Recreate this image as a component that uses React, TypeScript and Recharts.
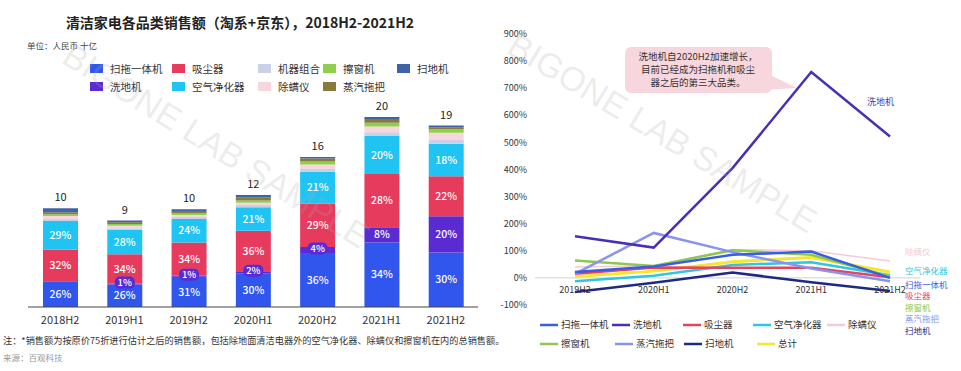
import { BarChart, Bar, XAxis, YAxis, LabelList, LineChart, Line, ReferenceLine } from 'recharts';

// ---- 左: 各品类销售额 (十亿) ----
const barCategories = ['2018H2', '2019H1', '2019H2', '2020H1', '2020H2', '2021H1', '2021H2'];
const barTotals = [10.4, 9.1, 10.3, 11.8, 15.8, 20.0, 19.1];
const totalLabels = ['10', '9', '10', '12', '16', '20', '19'];

// 各品类占比 (%)
const mopShare = [26, 26, 31, 30, 36, 34, 30];
const washerShare = [0, 1, 1, 2, 4, 8, 20];
const vacuumShare = [32, 34, 34, 36, 29, 28, 22];
const airShare = [29, 28, 24, 21, 21, 20, 18];
const comboShare = [2, 2, 2, 2, 2, 2, 2];
const miteShare = [3, 3, 2, 2, 3, 3, 4];
const windowShare = [2, 2, 2, 2, 2, 2, 2];
const steamShare = [2, 2, 2, 3, 2, 2, 1];
const robotShare = [4, 2, 2, 2, 1, 1, 1];

// ---- 右: 同比增速 (%) ----
const lineCategories = ['2019H2', '2020H1', '2020H2', '2021H1', '2021H2'];
const mopGrowth = [22, 42, 85, 97, 0];
const washerGrowth = [154, 112, 405, 760, 522];
const vacuumGrowth = [15, 38, 37, 37, 2];
const airGrowth = [-12, 8, 48, 58, 10];
const miteGrowth = [40, 45, 105, 100, 62];
const windowGrowth = [64, 44, 102, 85, 5];
const steamGrowth = [15, 166, 95, 35, -12];
const robotGrowth = [-52, -18, 20, -16, -48];
const totalGrowth = [5, 25, 60, 75, 22];
const yTicks = [-100, 0, 100, 200, 300, 400, 500, 600, 700, 800, 900];

const CJK = "'Noto Sans CJK SC', 'Noto Sans', sans-serif";

const barSeries = [
  { key: 'mop', name: '扫拖一体机', color: '#3056ee', share: mopShare },
  { key: 'washer', name: '洗地机', color: '#5a2ad2', share: washerShare },
  { key: 'vacuum', name: '吸尘器', color: '#e63b5d', share: vacuumShare },
  { key: 'air', name: '空气净化器', color: '#20c4f2', share: airShare },
  { key: 'combo', name: '机器组合', color: '#c9d0e8', share: comboShare },
  { key: 'mite', name: '除螨仪', color: '#f7d7dd', share: miteShare },
  { key: 'window', name: '擦窗机', color: '#8fd04b', share: windowShare },
  { key: 'steam', name: '蒸汽拖把', color: '#877a3c', share: steamShare },
  { key: 'robot', name: '扫地机', color: '#3e63a6', share: robotShare },
];

const barData = barCategories.map((c, i) => {
  const row: Record<string, number | string> = { name: c, total: barTotals[i] };
  for (const s of barSeries) {
    row[s.key] = (barTotals[i] * s.share[i]) / 100;
    row[s.key + 'Pct'] = s.share[i];
  }
  return row;
});

const lineSeries = [
  { key: 'mite', name: '除螨仪', color: '#f3cbd3', width: 1.5, values: miteGrowth },
  { key: 'total', name: '总计', color: '#f6e62c', width: 3, values: totalGrowth },
  { key: 'air', name: '空气净化器', color: '#2ec6e2', width: 2.5, values: airGrowth },
  { key: 'vacuum', name: '吸尘器', color: '#e5445f', width: 2.5, values: vacuumGrowth },
  { key: 'window', name: '擦窗机', color: '#8cc84c', width: 2.5, values: windowGrowth },
  { key: 'steam', name: '蒸汽拖把', color: '#8b93ec', width: 2.5, values: steamGrowth },
  { key: 'mop', name: '扫拖一体机', color: '#3a5de6', width: 2.5, values: mopGrowth },
  { key: 'robot', name: '扫地机', color: '#1e2a82', width: 2.5, values: robotGrowth },
  { key: 'washer', name: '洗地机', color: '#4a2fb6', width: 2.5, values: washerGrowth },
];

const lineData = lineCategories.map((c, i) => {
  const row: Record<string, number | string> = { name: c };
  for (const s of lineSeries) row[s.key] = s.values[i];
  return row;
});

function pctLabel(props: any) {
  const { x, y, width, height, value } = props;
  if (value === undefined || height < 8) return null;
  return (
    <text x={x + width / 2} y={y + height / 2} dy="0.35em" textAnchor="middle" fill="#fff" fontSize={10.5} fontWeight={500} fontFamily={CJK}>
      {value}%
    </text>
  );
}

function washerLabel(props: any) {
  const { x, y, width, height, value } = props;
  const cx = x + width / 2;
  const cy = y + height / 2 - 1.5;
  if (value >= 5) return pctLabel(props);
  return (
    <g>
      <rect x={cx - 10} y={cy - 6} width={20} height={12} rx={5} fill="#5a2ad2" />
      <text x={cx} y={cy} dy="0.35em" textAnchor="middle" fill="#fff" fontSize={9.5} fontWeight={500} fontFamily={CJK}>
        {value}%
      </text>
    </g>
  );
}

function totalLabel(props: any) {
  const { x, y, width, index } = props;
  return (
    <text x={x + width / 2} y={y - 7} textAnchor="middle" fill="#222" fontSize={11} fontFamily={CJK}>
      {totalLabels[index]}
    </text>
  );
}

function lineTick(props: any) {
  const { x, y, payload } = props;
  return (
    <text x={x} y={y - 26} dy="0.71em" textAnchor="middle" fill="#333" fontSize={9} fontFamily={CJK}>
      {payload.value}
    </text>
  );
}

const leftLegendPos = [
  { key: 'mop', x: 90, y: 68 },
  { key: 'vacuum', x: 172, y: 68 },
  { key: 'combo', x: 258, y: 68 },
  { key: 'window', x: 323, y: 68 },
  { key: 'robot', x: 397, y: 68 },
  { key: 'washer', x: 90, y: 86 },
  { key: 'air', x: 172, y: 86 },
  { key: 'mite', x: 258, y: 86 },
  { key: 'steam', x: 323, y: 86 },
];

const rightLegendPos = [
  { key: 'mop', x: 540, y: 325 },
  { key: 'washer', x: 612, y: 325 },
  { key: 'vacuum', x: 683, y: 325 },
  { key: 'air', x: 753, y: 325 },
  { key: 'mite', x: 827, y: 325 },
  { key: 'window', x: 540, y: 344 },
  { key: 'steam', x: 615, y: 344 },
  { key: 'robot', x: 684, y: 344 },
  { key: 'total', x: 757, y: 344 },
];

const endLabels = [
  { key: 'mite', y: 252 },
  { key: 'air', y: 271 },
  { key: 'mop', y: 285 },
  { key: 'vacuum', y: 296.5 },
  { key: 'window', y: 308 },
  { key: 'steam', y: 319.5 },
  { key: 'robot', y: 331 },
];

export default function App() {
  const abs = (x: number, y: number): React.CSSProperties => ({ position: 'absolute', left: x, top: y });
  return (
    <div style={{ position: 'absolute', left: 0, top: 0, width: 961, height: 371, background: '#fff', overflow: 'hidden', fontFamily: CJK }}>
      {/* 左图 标题 */}
      <div style={{ ...abs(0, 12), width: 480, textAlign: 'center', fontSize: 14, fontWeight: 700, color: '#222', lineHeight: '20px' }}>
        清洁家电各品类销售额（淘系+京东），2018H2-2021H2
      </div>
      <div style={{ ...abs(27, 39), fontSize: 8.5, color: '#444', lineHeight: '12px' }}>单位：人民币 十亿</div>

      {leftLegendPos.map(p => {
        const s = barSeries.find(b => b.key === p.key)!;
        return (
          <div key={p.key} style={{ ...abs(p.x, p.y - 7), display: 'flex', alignItems: 'center', height: 14 }}>
            <span style={{ width: 13, height: 9, background: s.color, display: 'inline-block', marginRight: 7 }} />
            <span style={{ fontSize: 10.5, color: '#333' }}>{s.name}</span>
          </div>
        );
      })}

      <div style={abs(0, 0)}>
        <BarChart width={490} height={371} data={barData} margin={{ top: 117, right: 12, left: 28, bottom: 34 }}>
          <XAxis dataKey="name" axisLine={{ stroke: '#444' }} tickLine={false} tickMargin={3} tick={{ fontSize: 11, fill: '#333', fontFamily: CJK }} />
          <YAxis hide domain={[0, 20]} />
          {barSeries.map(s => (
            <Bar key={s.key} dataKey={s.key} stackId="a" fill={s.color} barSize={35} isAnimationActive={false}>
              {['mop', 'vacuum', 'air'].includes(s.key) && <LabelList dataKey={s.key + 'Pct'} content={pctLabel} />}
              {s.key === 'washer' && <LabelList dataKey="washerPct" content={washerLabel} />}
              {s.key === 'robot' && <LabelList dataKey="total" content={totalLabel} />}
            </Bar>
          ))}
        </BarChart>
      </div>

      <div style={{ ...abs(3, 334), fontSize: 9.2, color: '#333', lineHeight: '12px', whiteSpace: 'nowrap' }}>
        注：*销售额为按原价75折进行估计之后的销售额，包括除地面清洁电器外的空气净化器、除螨仪和擦窗机在内的总销售额。
      </div>
      <div style={{ ...abs(3, 351), fontSize: 8.5, color: '#999', lineHeight: '12px' }}>来源：百观科技</div>

      {/* 右图 */}
      <div style={abs(490, 0)}>
        <LineChart width={471} height={371} data={lineData} margin={{ top: 34, right: 41, left: 0, bottom: 46 }}>
          <XAxis dataKey="name" height={20} axisLine={false} tickLine={false} padding={{ left: 40, right: 30 }} tick={lineTick} />
          <YAxis width={45} domain={[-100, 900]} ticks={yTicks} axisLine={false} tickLine={false} tickFormatter={v => `${v}%`} tick={{ fontSize: 9, fill: '#333', fontFamily: CJK }} />
          <ReferenceLine y={0} stroke="#d0d0d0" />
          {lineSeries.map(s => (
            <Line key={s.key} type="linear" dataKey={s.key} stroke={s.color} strokeWidth={s.width} dot={false} isAnimationActive={false} />
          ))}
        </LineChart>
      </div>

      {/* 注释框 + 文字标签 */}
      <svg width={961} height={371} style={{ ...abs(0, 0), pointerEvents: 'none' }}>
        <polygon points="760,70 760,90 797,88" fill="#f8d6dd" />
        <rect x={625} y={47} width={147} height={46} rx={6} fill="#f8d6dd" />
        <text x={698} y={57} dy="0.35em" textAnchor="middle" fontSize={9.5} fill="#333" fontFamily={CJK}>洗地机自2020H2加速增长，</text>
        <text x={698} y={70} dy="0.35em" textAnchor="middle" fontSize={9.5} fill="#333" fontFamily={CJK}>目前已经成为扫拖机和吸尘</text>
        <text x={698} y={83} dy="0.35em" textAnchor="middle" fontSize={9.5} fill="#333" fontFamily={CJK}>器之后的第三大品类。</text>
        <text x={867} y={102} dy="0.35em" fontSize={9} fill="#4a2fb6" fontFamily={CJK}>洗地机</text>
        {endLabels.map(l => {
          const s = lineSeries.find(v => v.key === l.key)!;
          return (
            <text key={l.key} x={905} y={l.y} dy="0.35em" fontSize={8.5} fill={s.color} fontFamily={CJK}>{s.name}</text>
          );
        })}
        {rightLegendPos.map(p => {
          const s = lineSeries.find(v => v.key === p.key)!;
          return (
            <g key={p.key}>
              <line x1={p.x} x2={p.x + 18} y1={p.y} y2={p.y} stroke={s.color} strokeWidth={2.5} />
              <text x={p.x + 21} y={p.y} dy="0.35em" fontSize={9.5} fill="#333" fontFamily={CJK}>{s.name}</text>
            </g>
          );
        })}
        <text x={60} y={62} transform="rotate(32 60 62)" fontSize={34} fill="rgba(170,170,170,0.22)" fontFamily="'Liberation Sans', sans-serif">BIGONE LAB SAMPLE</text>
        <text x={505} y={52} transform="rotate(31 505 52)" fontSize={34} fill="rgba(170,170,170,0.22)" fontFamily="'Liberation Sans', sans-serif">BIGONE LAB SAMPLE</text>
      </svg>
    </div>
  );
}
